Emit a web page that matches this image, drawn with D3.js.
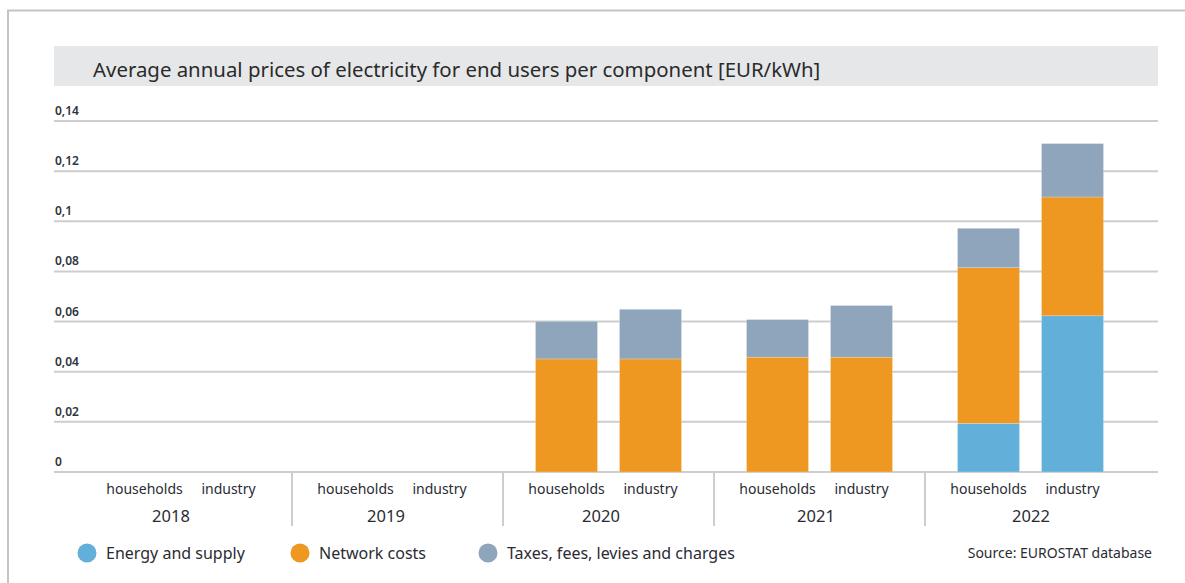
<!DOCTYPE html>
<html><head><meta charset="utf-8">
<script src="https://cdn.jsdelivr.net/npm/d3@7"></script>
<style>
html,body{margin:0;padding:0;background:#fff;}
svg{display:block;font-family:"Noto Sans",sans-serif;}
</style></head>
<body><svg id="c" width="1185" height="583"></svg>
<script>
const years = ["2018","2019","2020","2021","2022"];
const users = ["households","industry"];
const seriesNames = ["Energy and supply","Network costs","Taxes, fees, levies and charges"];
const seriesColors = ["#62b0da","#ee9821","#8ea5bb"];
// values per year, [households, industry]
const energySupply = [[0,0],[0,0],[0,0],[0,0],[0.0194,0.0623]];
const networkCosts = [[0,0],[0,0],[0.0451,0.0451],[0.0458,0.0458],[0.0621,0.0474]];
const taxesFees    = [[0,0],[0,0],[0.0150,0.0198],[0.0150,0.0206],[0.0157,0.0213]];
const yTicks = [0,0.02,0.04,0.06,0.08,0.1,0.12,0.14];
const yTickLabels = ["0","0,02","0,04","0,06","0,08","0,1","0,12","0,14"];
const title = "Average annual prices of electricity for end users per component [EUR/kWh]";
const source = "Source: EUROSTAT database";

const svg = d3.select("#c");

// frame
svg.append("path").attr("d","M8,583 V10.5 H1185").attr("fill","none").attr("stroke","#c4c4c4").attr("stroke-width",2);

// title bar
svg.append("rect").attr("x",54).attr("y",46).attr("width",1104).attr("height",40).attr("fill","#e6e7e8");
svg.append("text").attr("x",93).attr("y",76.5).attr("font-size",20.4).attr("fill","#2b2b2b").text(title);

const plotL = 54, plotR = 1158;
const y = d3.scaleLinear().domain([0,0.14]).range([472,121]);
const x0 = d3.scaleBand().domain(years).range([81,1136]).paddingInner(0).paddingOuter(0);
const x1 = d3.scaleBand().domain(users).range([0,x0.bandwidth()]).paddingInner(0.262).paddingOuter(0.387);
const yearLabelX = d3.scalePoint().domain(years).range([171,1031]);

// gridlines + tick labels
const g = svg.append("g");
yTicks.forEach((t,i)=>{
  g.append("line").attr("x1",plotL).attr("x2",plotR).attr("y1",y(t)).attr("y2",y(t))
    .attr("stroke","#cdcdcd").attr("stroke-width",2);
  g.append("text").attr("x",55).attr("y",y(t)-6).attr("font-size",12).attr("font-weight",600)
    .attr("fill","#2e3440").text(yTickLabels[i]);
});

// stacked bars
const rows = [];
years.forEach((yr,i)=>users.forEach((u,j)=>{
  rows.push({year:yr,user:u,e:energySupply[i][j],n:networkCosts[i][j],t:taxesFees[i][j]});
}));
const stacked = d3.stack().keys(["e","n","t"])(rows);
stacked.forEach((layer,k)=>{
  svg.append("g").selectAll("rect").data(layer.filter(d=>d[1]-d[0]>0)).join("rect")
    .attr("x",d=>x0(d.data.year)+x1(d.data.user))
    .attr("width",x1.bandwidth())
    .attr("y",d=>y(d[1]))
    .attr("height",d=>y(d[0])-y(d[1]))
    .attr("fill",seriesColors[k])
    .attr("stroke","rgba(255,255,255,0.35)").attr("stroke-width",0.6);
});

// category axis
const ax = svg.append("g");
years.slice(1).forEach(yr=>{
  ax.append("line").attr("x1",x0(yr)).attr("x2",x0(yr)).attr("y1",473).attr("y2",526)
    .attr("stroke","#cdcdcd").attr("stroke-width",2);
});
years.forEach(yr=>{
  users.forEach(u=>{
    ax.append("text").attr("x",x0(yr)+x1(u)+x1.bandwidth()/2).attr("y",494)
      .attr("text-anchor","middle").attr("font-size",14).attr("fill","#2b2b33").text(u);
  });
  ax.append("text").attr("x",yearLabelX(yr)).attr("y",522).attr("text-anchor","middle")
    .attr("font-size",16.5).attr("fill","#2b2b33").text(yr);
});

// legend
const legX = [87,300,488];
seriesNames.forEach((s,i)=>{
  svg.append("circle").attr("cx",legX[i]).attr("cy",553).attr("r",9.5).attr("fill",seriesColors[i]);
  svg.append("text").attr("x",legX[i]+19).attr("y",559).attr("font-size",16).attr("fill","#2b2b33").text(s);
});
svg.append("text").attr("x",1152).attr("y",558).attr("text-anchor","end").attr("font-size",14)
  .attr("fill","#2b2b33").text(source);
</script></body></html>
